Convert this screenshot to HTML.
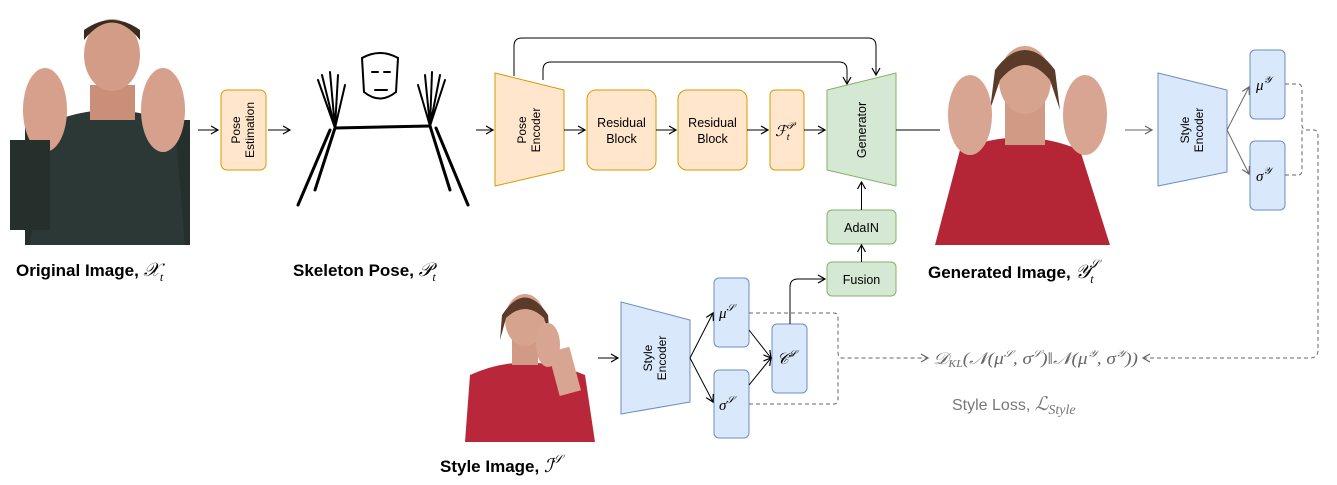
<!DOCTYPE html>
<html><head><meta charset="utf-8"><style>
html,body{margin:0;padding:0;background:#fff;width:1337px;height:485px;overflow:hidden}
svg{display:block;font-family:"Liberation Sans",sans-serif}
.lab{font-weight:bold;font-size:17px;fill:#000}
.m{font-family:"Liberation Serif",serif;font-style:italic}
</style></head><body>
<svg width="1337" height="485" viewBox="0 0 1337 485" xmlns="http://www.w3.org/2000/svg">
<defs>
<marker id="a" markerWidth="10" markerHeight="10" refX="8" refY="5" orient="auto" markerUnits="userSpaceOnUse"><path d="M1,1 L8,5 L1,9" fill="none" stroke="#000" stroke-width="1.2"/></marker>
<marker id="g" markerWidth="10" markerHeight="10" refX="8" refY="5" orient="auto" markerUnits="userSpaceOnUse"><path d="M1,1 L8,5 L1,9" fill="none" stroke="#666" stroke-width="1.2"/></marker>
</defs>

<!-- Original image person -->
<g>
<rect x="25" y="120" width="165" height="125" fill="#25302d"/>
<path d="M45,125 Q110,95 175,125 L185,245 L30,245 Z" fill="#2b3835"/>
<rect x="90" y="85" width="45" height="35" fill="#c98f78"/>
<ellipse cx="112" cy="55" rx="28" ry="36" fill="#d29c86"/>
<path d="M84,40 Q112,5 140,40 L140,30 Q112,10 84,30Z" fill="#3a2a20"/>
<ellipse cx="45" cy="110" rx="22" ry="42" fill="#d6a08c"/>
<ellipse cx="163" cy="110" rx="22" ry="42" fill="#d6a08c"/>
<rect x="10" y="140" width="40" height="90" fill="#25302d"/>
</g>

<!-- Pose Estimation -->
<rect x="221" y="90" width="45" height="80" rx="6" fill="#ffe6cc" stroke="#d79b00"/>
<text transform="translate(243,130) rotate(-90)" text-anchor="middle" font-size="12"><tspan x="0" y="-3">Pose</tspan><tspan x="0" y="11">Estimation</tspan></text>
<line x1="198" y1="130" x2="218" y2="130" stroke="#000" marker-end="url(#a)"/>
<line x1="268" y1="130" x2="290" y2="130" stroke="#000" marker-end="url(#a)"/>

<!-- Skeleton -->
<g stroke="#000" stroke-width="3" fill="none" stroke-linecap="round">
<path d="M362,58 Q380,48 398,58 L396,92 Q380,105 364,92 Z" stroke-width="2"/>
<path d="M335,128 L430,126"/>
<path d="M335,128 L315,190 M330,130 L298,205"/>
<path d="M430,126 L450,190 M436,128 L468,205"/>
<path d="M335,128 L318,80 M335,128 L322,75 M335,128 L330,72 M335,128 L338,75 M335,128 L345,85" stroke-width="2"/>
<path d="M430,126 L445,80 M430,126 L440,75 M430,126 L432,72 M430,126 L425,75 M430,126 L418,85" stroke-width="2"/>
<path d="M372,72 h6 M384,72 h6 M375,90 h12" stroke-width="2"/>
</g>

<line x1="476" y1="130" x2="493" y2="130" stroke="#000" marker-end="url(#a)"/>

<!-- Pose encoder -->
<path d="M495,73 L564,90 L564,170 L495,186 Z" fill="#ffe6cc" stroke="#d79b00" stroke-linejoin="round"/>
<text transform="translate(529,130) rotate(-90)" text-anchor="middle" font-size="12"><tspan x="0" y="-3">Pose</tspan><tspan x="0" y="11">Encoder</tspan></text>
<rect x="587" y="90" width="69" height="80" rx="9" fill="#ffe6cc" stroke="#d79b00"/>
<text x="621.5" y="127" text-anchor="middle" font-size="12.5">Residual</text><text x="621.5" y="143" text-anchor="middle" font-size="12.5">Block</text>
<rect x="678" y="90" width="69" height="80" rx="9" fill="#ffe6cc" stroke="#d79b00"/>
<text x="712.5" y="127" text-anchor="middle" font-size="12.5">Residual</text><text x="712.5" y="143" text-anchor="middle" font-size="12.5">Block</text>
<rect x="770" y="90" width="34" height="80" rx="5" fill="#ffe6cc" stroke="#d79b00"/>
<text x="775" y="136" font-size="15" class="m">ℱ<tspan font-size="10" dy="4">t</tspan><tspan font-size="10" dy="-11" dx="-3">𝒫</tspan></text>
<line x1="564" y1="130" x2="585" y2="130" stroke="#000" marker-end="url(#a)"/>
<line x1="656" y1="130" x2="676" y2="130" stroke="#000" marker-end="url(#a)"/>
<line x1="747" y1="130" x2="768" y2="130" stroke="#000" marker-end="url(#a)"/>
<line x1="804" y1="130" x2="825" y2="130" stroke="#000" marker-end="url(#a)"/>

<!-- skip connections -->
<path d="M514,76 L514,46 Q514,38 522,38 L868,38 Q876,38 876,46 L876,75" fill="none" stroke="#000" marker-end="url(#a)"/>
<path d="M543,80 L543,70 Q543,62 551,62 L839,62 Q847,62 847,70 L847,84" fill="none" stroke="#000" marker-end="url(#a)"/>

<!-- Generator -->
<path d="M827,90 L896,73 L896,186 L827,170 Z" fill="#d5e8d4" stroke="#82b366" stroke-linejoin="round"/>
<text transform="translate(866,130) rotate(-90)" text-anchor="middle" font-size="12.5">Generator</text>
<line x1="896" y1="130" x2="940" y2="130" stroke="#000"/>

<rect x="827" y="210" width="69" height="34" rx="5" fill="#d5e8d4" stroke="#82b366"/>
<text x="861.5" y="232" text-anchor="middle" font-size="12.5">AdaIN</text>
<rect x="827" y="262" width="69" height="34" rx="5" fill="#d5e8d4" stroke="#82b366"/>
<text x="861.5" y="284" text-anchor="middle" font-size="12.5">Fusion</text>
<line x1="861.5" y1="210" x2="861.5" y2="182" stroke="#000" marker-end="url(#a)"/>
<line x1="861.5" y1="262" x2="861.5" y2="245" stroke="#000" marker-end="url(#a)"/>

<!-- Generated person -->
<g>
<path d="M960,150 Q1020,125 1080,150 L1110,245 L935,245 Z" fill="#b42636"/>
<rect x="1005" y="100" width="40" height="45" fill="#d19a85"/>
<ellipse cx="1025" cy="80" rx="26" ry="34" fill="#d6a38f"/>
<path d="M995,70 Q1025,30 1055,70 L1060,110 L1050,80 Q1025,50 1000,80 L990,110Z" fill="#5a3a28"/>
<ellipse cx="970" cy="115" rx="22" ry="40" fill="#d8a592"/>
<ellipse cx="1085" cy="115" rx="22" ry="40" fill="#d8a592"/>
</g>
<line x1="1125" y1="130" x2="1152" y2="130" stroke="#666" marker-end="url(#g)"/>

<!-- Right style encoder -->
<path d="M1158,73 L1227,90 L1227,172 L1158,186 Z" fill="#dae8fc" stroke="#6c8ebf" stroke-linejoin="round"/>
<text transform="translate(1192,130) rotate(-90)" text-anchor="middle" font-size="12"><tspan x="0" y="-3">Style</tspan><tspan x="0" y="11">Encoder</tspan></text>
<rect x="1250" y="50" width="35" height="69" rx="5" fill="#dae8fc" stroke="#6c8ebf"/>
<text x="1256" y="90" font-size="15" class="m">μ<tspan font-size="10" dy="-7">𝒴</tspan></text>
<rect x="1250" y="141" width="35" height="69" rx="5" fill="#dae8fc" stroke="#6c8ebf"/>
<text x="1256" y="181" font-size="15" class="m">σ<tspan font-size="10" dy="-7">𝒴</tspan></text>
<line x1="1227" y1="130" x2="1249" y2="87" stroke="#666" marker-end="url(#g)"/>
<line x1="1227" y1="130" x2="1249" y2="174" stroke="#666" marker-end="url(#g)"/>
<path d="M1285,84 L1298,84 Q1302,84 1302,90 L1302,125 Q1302,130 1308,130 L1314,130 Q1318,130 1318,136 L1318,350 Q1318,358 1310,358 L1143,358" fill="none" stroke="#666" stroke-dasharray="4,3" marker-end="url(#g)"/>
<path d="M1285,175 L1298,175 Q1302,175 1302,170 L1302,130" fill="none" stroke="#666" stroke-dasharray="4,3"/>

<!-- Style image person -->
<g>
<path d="M470,375 Q525,350 585,375 L595,442 L465,442 Z" fill="#b8283a"/>
<rect x="512" y="335" width="26" height="30" fill="#d09a86"/>
<ellipse cx="525" cy="320" rx="20" ry="26" fill="#d6a38f"/>
<path d="M502,315 Q525,280 548,315 L550,340 L544,318 Q525,300 506,318 L500,340Z" fill="#5a3a28"/>
<ellipse cx="548" cy="345" rx="12" ry="22" fill="#d8a592"/>
<rect x="553" y="350" width="22" height="45" fill="#d8a592" transform="rotate(-15 560 370)"/>
</g>
<line x1="598" y1="358" x2="618" y2="358" stroke="#000" marker-end="url(#a)"/>

<!-- Style encoder bottom -->
<path d="M621,302 L690,320 L690,402 L621,414 Z" fill="#dae8fc" stroke="#6c8ebf" stroke-linejoin="round"/>
<text transform="translate(655,358) rotate(-90)" text-anchor="middle" font-size="12"><tspan x="0" y="-3">Style</tspan><tspan x="0" y="11">Encoder</tspan></text>
<rect x="714" y="278" width="35" height="69" rx="5" fill="#dae8fc" stroke="#6c8ebf"/>
<text x="719" y="318" font-size="15" class="m">μ<tspan font-size="10" dy="-7">𝒮</tspan></text>
<rect x="714" y="370" width="35" height="68" rx="5" fill="#dae8fc" stroke="#6c8ebf"/>
<text x="719" y="410" font-size="15" class="m">σ<tspan font-size="10" dy="-7">𝒮</tspan></text>
<rect x="772" y="324" width="35" height="69" rx="5" fill="#dae8fc" stroke="#6c8ebf"/>
<text x="777" y="364" font-size="16" class="m">𝒞<tspan font-size="10" dy="-7">𝒮</tspan></text>
<line x1="690" y1="358" x2="713" y2="313" stroke="#000" marker-end="url(#a)"/>
<line x1="690" y1="358" x2="713" y2="402" stroke="#000" marker-end="url(#a)"/>
<line x1="749" y1="330" x2="771" y2="358" stroke="#000" marker-end="url(#a)"/>
<line x1="749" y1="385" x2="771" y2="358" stroke="#000" marker-end="url(#a)"/>
<path d="M790,324 L790,287 Q790,279 798,279 L825,279" fill="none" stroke="#000" marker-end="url(#a)"/>
<path d="M749,313 L834,313 Q838,313 838,318 L838,352 Q838,358 842,358 L928,358" fill="none" stroke="#666" stroke-dasharray="4,3" marker-end="url(#g)"/>
<path d="M749,404 L834,404 Q838,404 838,399 L838,358" fill="none" stroke="#666" stroke-dasharray="4,3"/>
<text x="933" y="364" font-size="16.5" fill="#666" class="m" textLength="205" lengthAdjust="spacingAndGlyphs">𝒟<tspan font-size="10" dy="3">KL</tspan><tspan dy="-3">(𝒩(μ</tspan><tspan font-size="10" dy="-7">𝒮</tspan><tspan dy="7">, σ</tspan><tspan font-size="10" dy="-7">𝒮</tspan><tspan dy="7">)‖𝒩(μ</tspan><tspan font-size="10" dy="-7">𝒴</tspan><tspan dy="7">, σ</tspan><tspan font-size="10" dy="-7">𝒴</tspan><tspan dy="7">))</tspan></text>
<text x="952" y="410" font-size="16" fill="#777">Style Loss, <tspan class="m" font-size="19">ℒ</tspan><tspan class="m" font-size="14" dy="4">Style</tspan></text>

<!-- Labels -->
<text x="16" y="276" class="lab">Original Image, <tspan class="m" font-weight="normal" font-size="19">𝒳</tspan><tspan class="m" font-weight="normal" font-size="12" dy="5">t</tspan></text>
<text x="293" y="276" class="lab">Skeleton Pose, <tspan class="m" font-weight="normal" font-size="19">𝒫</tspan><tspan class="m" font-weight="normal" font-size="12" dy="5">t</tspan></text>
<text x="928" y="278" class="lab">Generated Image, <tspan class="m" font-weight="normal" font-size="19">𝒴</tspan><tspan class="m" font-weight="normal" font-size="12" dy="5">t</tspan><tspan class="m" font-weight="normal" font-size="12" dy="-15" dx="-4">𝒮</tspan></text>
<text x="440" y="472" class="lab">Style Image, <tspan class="m" font-weight="normal" font-size="19">ℐ</tspan><tspan class="m" font-weight="normal" font-size="12" dy="-9">𝒮</tspan></text>
</svg>
</body></html>
